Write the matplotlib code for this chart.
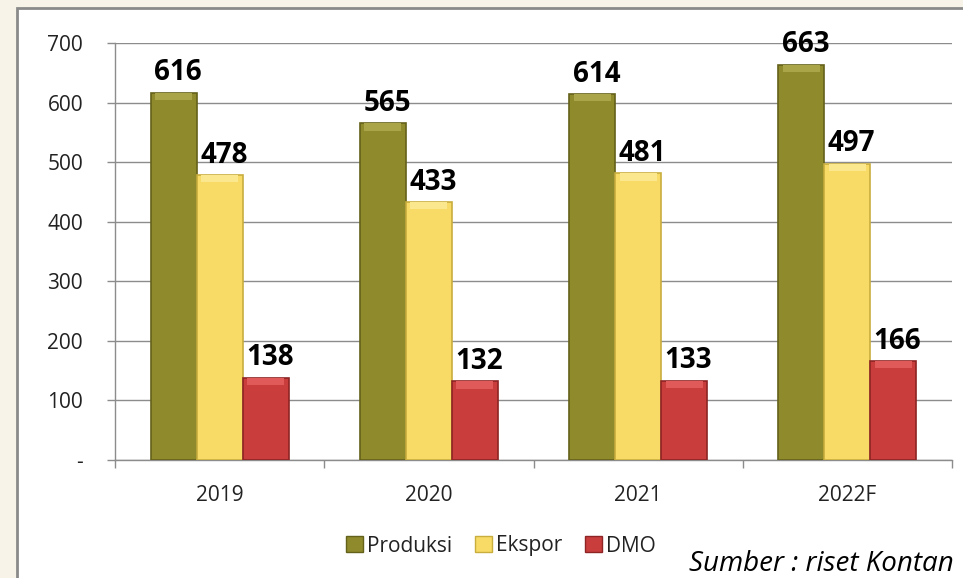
import matplotlib
matplotlib.use("Agg")
import matplotlib.pyplot as plt
from matplotlib.patches import Patch, Rectangle
import numpy as np

plt.rcParams["font.family"] = ["Open Sans", "DejaVu Sans"]

years = ["2019", "2020", "2021", "2022F"]
produksi = [616, 565, 614, 663]
ekspor = [478, 433, 481, 497]
dmo = [138, 132, 133, 166]
series_names = ["Produksi", "Ekspor", "DMO"]
yticks = [0, 100, 200, 300, 400, 500, 600, 700]
ytick_labels = ["-", "100", "200", "300", "400", "500", "600", "700"]

FACE = ["#8F8B2C", "#F7DB66", "#C93D3D"]
TOP = ["#A9A548", "#FBE88E", "#E05A5A"]
EDGE = ["#64611A", "#C9AE3E", "#8E2424"]
GRID = "#8C8C8C"

W, H = 963, 578
fig = plt.figure(figsize=(W / 100, H / 100), dpi=100, facecolor="#F7F3E9")
# white chart box with grey border (cut off on the right and bottom)
fig.patches.append(Rectangle((17 / W, -0.05), 1.1, 1.05 - 8 / H,
                             transform=fig.transFigure, facecolor="white",
                             edgecolor="#8A8A8A", lw=2, zorder=-5))

ax = fig.add_axes([115 / W, 118 / H, 837 / W, 417 / H])
ax.set_facecolor("none")

x = np.arange(len(years))
bw = 0.22
cap = 12  # height of the lighter bevel at the top of each bar
for i, (name, vals) in enumerate(zip(series_names, [produksi, ekspor, dmo])):
    xs = x + (i - 1) * bw
    vals = np.array(vals)
    ax.bar(xs, vals, width=bw, color=FACE[i], edgecolor=EDGE[i],
           linewidth=1.2, zorder=3, label=name)
    ax.bar(xs, cap, bottom=vals - cap, width=bw * 0.8, color=TOP[i],
           linewidth=0, zorder=4)
    for xb, v in zip(xs, vals):
        ax.annotate(str(v), (xb, v), textcoords="offset points", xytext=(3, 4),
                    ha="center", va="bottom", fontsize=20, fontweight="bold",
                    color="black", zorder=5, annotation_clip=False)

ax.set_xlim(-0.5, len(years) - 0.5)
ax.set_ylim(0, 700)
ax.set_yticks(yticks)
ax.set_yticklabels(ytick_labels)
ax.grid(axis="y", color=GRID, linewidth=1.0, zorder=1)
ax.set_axisbelow(True)

ax.set_xticks(x)
ax.set_xticklabels(years)
ax.set_xticks(np.arange(-0.5, len(years)), minor=True)

for s in ["top", "right"]:
    ax.spines[s].set_visible(False)
for s in ["left", "bottom"]:
    ax.spines[s].set_color(GRID)
    ax.spines[s].set_linewidth(1.0)

ax.tick_params(axis="y", length=6, width=1, color=GRID, pad=17,
               labelsize=15, labelcolor="#222222")
ax.tick_params(axis="x", which="major", length=0, pad=18,
               labelsize=15, labelcolor="#222222")
ax.tick_params(axis="x", which="minor", length=6, width=1, color=GRID)

handles = [Patch(facecolor=FACE[i], edgecolor=EDGE[i], label=series_names[i])
           for i in range(3)]
fig.legend(handles=handles, loc="center", bbox_to_anchor=(501 / W, 1 - 546 / H),
           ncol=3, frameon=False, fontsize=15, handlelength=0.8,
           handleheight=0.8, handletextpad=0.2, columnspacing=1.1,
           labelcolor="#222222")

fig.text(689 / W, 1 - 571 / H, "Sumber : riset Kontan", style="italic",
         fontsize=20, va="baseline", ha="left", color="black")

fig.savefig("out.png", dpi=100, facecolor=fig.get_facecolor())
